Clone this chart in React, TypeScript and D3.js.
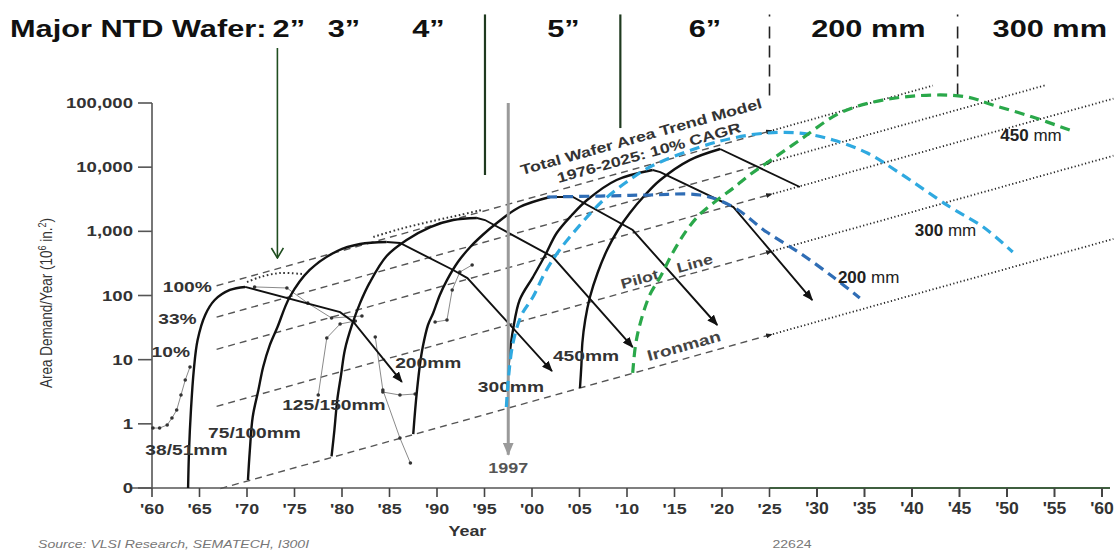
import React from 'react';
import * as d3 from 'd3';

// Wafer area demand by generation, with the 10% CAGR trend model.
// Values are [year, area demand in 10^6 in^2].

type Pt = [number, number];

const WIDTH = 1116;
const HEIGHT = 551;
const FONT = '"Liberation Sans", Arial, Helvetica, sans-serif';
const SX = 1.28; // the source figure is stretched horizontally, text included
const CAGR = 0.1;

// ---- axes ----
const YEAR_TICKS = [1960, 1965, 1970, 1975, 1980, 1985, 1990, 1995, 2000, 2005, 2010,
  2015, 2020, 2025, 2030, 2035, 2040, 2045, 2050, 2055, 2060];
const YEAR_TICK_LABELS = ["'60", "'65", "'70", "'75", "'80", "'85", "'90", "'95", "'00", "'05", "'10",
  "'15", "'20", "'25", "'30", "'35", "'40", "'45", "'50", "'55", "'60"];
const AREA_TICKS = [0.1, 1, 10, 100, 1000, 10000, 100000];
const AREA_TICK_LABELS = ['0', '1', '10', '100', '1,000', '10,000', '100,000'];

// ---- header: major wafer eras ----
const ERA_LABELS = ['2”', '3”', '4”', '5”', '6”', '200 mm', '300 mm'];
const ERA_CENTER_YEARS = [1974.4, 1980.2, 1989.1, 2003.3, 2018.2, 2035.4, 2054.5];
const DIVIDER_YEARS = [1995.05, 2009.3, 2025, 2044.8];
const DIVIDER_BOTTOMS = [7550, 40700, 111000, 133000];
const DIVIDER_DASHED = [false, false, true, true];
const DIVIDER_TOP = 2.4e6;
const ARROW_2IN: Pt[] = [[1973.2, 7.2e5], [1973.2, 384]];
const MARKER_1997: Pt[] = [[1997.5, 100000], [1997.5, 0.33]];

// ---- trend model lines (dashed to 2025, dotted after) ----
const TREND_100: Pt[] = [[1966.8, 142], [2025, 36300], [2042.2, 187000]];
const TREND_33: Pt[] = [[1966.8, 46], [2025, 11900], [2054.2, 192000]];
const TREND_10: Pt[] = [[1966.8, 14.5], [2025, 3720], [2061.2, 117000]];
const TREND_PILOT: Pt[] = [[1966.8, 1.87], [2025, 479], [2061.2, 15070]];
const TREND_IRONMAN: Pt[] = [[1967.2, 0.098], [2025, 24.2], [2061.2, 762]];

const SHARE_LABELS = ['100%', '33%', '10%'];
const SHARE_LABEL_AT: Pt[] = [[1966.3, 113], [1964.7, 36], [1964.0, 11]];

// ---- generations (black): ramp, then decline ----
const GEN_38_51_RISE: Pt[] = [[1963.8, 0.1], [1963.9, 0.39], [1964.1, 1.64], [1964.4, 6.9], [1964.8, 20.2],
  [1965.6, 49.7], [1966.6, 85], [1968.2, 122], [1969.8, 136]];
const GEN_38_51_FALL: Pt[] = [[1969.8, 136], [1979.8, 55], [1981.2, 38.6], [1986.3, 4.5]];

const GEN_75_100_RISE: Pt[] = [[1970.1, 0.133], [1970.3, 0.39], [1970.6, 1.28], [1971.2, 3.37], [1971.7, 7.7],
  [1972.4, 16.9], [1973.2, 32], [1974.5, 94.7], [1976.6, 250], [1979.5, 493], [1981.9, 634], [1984.7, 682]];
const GEN_75_100_FALL: Pt[] = [[1984.7, 682], [1986.1, 658], [1991.7, 250], [1993.2, 187], [2002.1, 6.65]];

const GEN_125_150_RISE: Pt[] = [[1978.9, 0.31], [1979.2, 0.8], [1979.5, 2.35], [1979.9, 5.77], [1980.3, 14.2],
  [1981.05, 34.7], [1981.9, 76], [1982.9, 157], [1984.7, 412], [1986.8, 733], [1989.3, 1167], [1991.7, 1500],
  [1994.2, 1615]];
const GEN_125_150_FALL: Pt[] = [[1994.2, 1615], [1995.05, 1500], [2002.2, 398], [2010.6, 15.7]];

const GEN_200_RISE: Pt[] = [[1987.5, 0.69], [1987.7, 1.64], [1987.9, 3.37], [1988.2, 8.26], [1988.5, 15.7],
  [1989.05, 34.7], [1989.6, 53.3], [1990.3, 102], [1991.05, 174], [1992.2, 333], [1993.5, 570], [1994.8, 877],
  [1996.3, 1349], [1998.7, 2393], [2001.9, 3430]];
const GEN_200_FALL: Pt[] = [[2001.9, 3430], [2004.3, 3430], [2010.6, 1049], [2019.5, 34.7]];

const GEN_300_RISE: Pt[] = [[1997.5, 6.9], [1997.7, 14.2], [1998.0, 29], [1998.7, 85], [2000.1, 194],
  [2001.4, 428], [2002.6, 942], [2004.2, 1796], [2005.8, 3076], [2008.9, 6310], [2012.7, 9030]];
const GEN_300_FALL: Pt[] = [[2012.7, 9030], [2013.5, 8400], [2021.2, 2393], [2029.5, 85]];

const GEN_450_RISE: Pt[] = [[2005.05, 3.62], [2005.2, 8.26], [2005.3, 18.2], [2005.6, 41.5], [2006.1, 94.7],
  [2006.9, 224], [2007.9, 512], [2009.05, 1049], [2010.3, 1932], [2011.9, 3680], [2013.5, 6310],
  [2016.6, 12900], [2019.8, 19200]];
const GEN_450_FALL: Pt[] = [[2019.8, 19200], [2028.2, 4910]];

const CURVE_LABELS = ['38/51mm', '75/100mm', '125/150mm', '200mm', '300mm', '450mm'];
const CURVE_LABEL_AT: Pt[] = [[1959.3, 0.33], [1965.9, 0.6], [1973.7, 1.64], [1985.6, 7.41], [1994.3, 3.13],
  [2002.2, 9.5]];

// ---- forecast generations (coloured, dashed) ----
const FORECAST_200: Pt[] = [[2001.6, 3430], [2007.2, 3550], [2012.4, 3680], [2017.7, 3680], [2021.2, 2393],
  [2024.7, 975], [2028.2, 459], [2031.7, 194], [2034.5, 91.4]];
const FORECAST_300: Pt[] = [[1997.3, 1.83], [1997.5, 4.82], [1998.0, 18.2], [1998.9, 49.7], [2000.1, 94.7],
  [2001.4, 232], [2002.9, 512], [2005.05, 1254], [2007.2, 2762], [2009.8, 5660], [2012.4, 10050],
  [2017.7, 20600], [2021.2, 28500], [2024.7, 34000], [2028.2, 34000], [2031.7, 26500], [2035.3, 16600],
  [2038.7, 8110], [2044.0, 2393], [2047.5, 1167], [2050.6, 476]];
const FORECAST_450: Pt[] = [[2010.6, 6.2], [2010.9, 16.9], [2011.4, 37.2], [2012.4, 102], [2013.5, 194],
  [2014.8, 459], [2016.3, 1049], [2017.7, 1862], [2019.5, 3076], [2021.2, 4730], [2022.9, 7550],
  [2024.7, 11600], [2028.2, 26500], [2032.4, 69800], [2036.9, 111000], [2042.2, 133000], [2045.8, 124000],
  [2048.5, 93000], [2052.7, 60500], [2056.6, 37900]];
const FORECAST_LABELS = ['200', '300', '450'];
const FORECAST_LABEL_AT: Pt[] = [[2032.2, 157], [2040.3, 845], [2049.3, 25600]];

// ---- historical data traces (thin, with dots) ----
const HIST_2IN: Pt[] = [[1960.1, 0.86], [1960.8, 0.86], [1961.6, 0.96], [1962.1, 1.23], [1962.6, 1.64],
  [1963.05, 2.81], [1963.5, 4.82], [1964.0, 7.7]];
const HIST_3IN: Pt[] = [[1970.8, 136], [1974.2, 131], [1976.4, 76], [1978.9, 44.6], [1982.1, 47.9]];
const HIST_4IN_RISE: Pt[] = [[1977.5, 2.81], [1978.4, 21.8], [1979.8, 36], [1981.4, 40]];
const HIST_4IN_FALL: Pt[] = [[1983.5, 22.5], [1984.3, 3.37], [1986.1, 0.6], [1987.2, 0.245]];
const HIST_4IN_FLAT: Pt[] = [[1984.3, 3.13], [1986.1, 2.81], [1987.7, 2.92]];
const HIST_5IN: Pt[] = [[1993.7, 299], [1992.4, 232], [1991.6, 122], [1991.05, 41.5], [1989.8, 38.6]];
const HIST_3IN_TOP: Pt[] = [[1970.0, 162], [1971.4, 194], [1973.5, 224], [1975.8, 216]];
const HIST_6IN_TOP: Pt[] = [[1983.3, 817], [1986.1, 1087], [1990.0, 1500], [1992.4, 1796], [1994.7, 2149]];

// ---- text along the trend lines ----
const TREND_TEXTS = ['Total Wafer Area Trend Model', '1976-2025: 10% CAGR', 'Pilot', 'Line', 'Ironman'];
const TREND_TEXT_AT: Pt[] = [[1998.95, 7550], [2002.8, 5660], [2009.5, 126], [2015.4, 224], [2012.3, 9.5]];
const TREND_TEXT_SIZES = [14, 14, 14, 14, 15];

function T({ x, y, children, size = 15, weight = 'bold', anchor = 'start', fill = '#333', rotate = 0, sx = SX, italic = false }: any) {
  return (
    <text
      transform={`translate(${x},${y}) rotate(${rotate}) scale(${sx},1)`}
      fontFamily={FONT}
      fontSize={size}
      fontWeight={weight}
      fontStyle={italic ? 'italic' : 'normal'}
      textAnchor={anchor}
      fill={fill}
    >
      {children}
    </text>
  );
}

export default function App() {
  const x = d3.scaleLinear().domain([1960, 2060]).range([152, 1102]);
  const y = d3.scaleLog().domain([0.1, 100000]).range([488, 103]);
  const smooth = d3.line<Pt>().x((d) => x(d[0])).y((d) => y(d[1])).curve(d3.curveCatmullRom.alpha(0.5));
  const straight = d3.line<Pt>().x((d) => x(d[0])).y((d) => y(d[1]));
  const trendAngle = (Math.atan2(y(100 * (1 + CAGR) ** 10) - y(100), x(1970) - x(1960)) * 180) / Math.PI;
  const axisY = y(0.1);

  const trends = [TREND_100, TREND_33, TREND_10, TREND_PILOT, TREND_IRONMAN];
  const rises = [GEN_38_51_RISE, GEN_75_100_RISE, GEN_125_150_RISE, GEN_200_RISE, GEN_300_RISE, GEN_450_RISE];
  const falls = [GEN_38_51_FALL, GEN_75_100_FALL, GEN_125_150_FALL, GEN_200_FALL, GEN_300_FALL, GEN_450_FALL];
  const hists = [HIST_2IN, HIST_3IN, HIST_4IN_RISE, HIST_4IN_FALL, HIST_4IN_FLAT, HIST_5IN];
  const forecasts = [
    { data: FORECAST_200, color: '#2f6db5' },
    { data: FORECAST_300, color: '#2fa9e0' },
    { data: FORECAST_450, color: '#2aa84a' },
  ];

  return (
    <svg
      width={WIDTH}
      height={HEIGHT}
      viewBox={`0 0 ${WIDTH} ${HEIGHT}`}
      style={{ position: 'absolute', left: 0, top: 0, background: '#fff', display: 'block' }}
    >
      <defs>
        <marker id="arrow-black" viewBox="0 0 10 8" refX={9} refY={4} markerWidth={11} markerHeight={9}
          markerUnits="userSpaceOnUse" orient="auto">
          <path d="M0,0 L10,4 L0,8 z" fill="#111" />
        </marker>
        <marker id="arrow-small" viewBox="0 0 8 6" refX={4} refY={3} markerWidth={7} markerHeight={5}
          markerUnits="userSpaceOnUse" orient="auto">
          <path d="M0,0 L8,3 L0,6 z" fill="#222" />
        </marker>
        <marker id="arrow-grey" viewBox="0 0 12 10" refX={11} refY={5} markerWidth={13} markerHeight={11}
          markerUnits="userSpaceOnUse" orient="auto">
          <path d="M0,0 L12,5 L0,10 z" fill="#9a9a9a" />
        </marker>
        <marker id="arrow-open" viewBox="-1 -1 12 14" refX={10} refY={6} markerWidth={12} markerHeight={14}
          markerUnits="userSpaceOnUse" orient="auto">
          <path d="M0,0 L10,6 L0,12" fill="none" stroke="#1f4d1f" strokeWidth={1.6} />
        </marker>
      </defs>

      {/* header */}
      <T x={10} y={37} size={24} fill="#111">Major NTD Wafer:</T>
      {ERA_LABELS.map((lab, i) => (
        <T key={lab} x={x(ERA_CENTER_YEARS[i])} y={37} size={24} fill="#111" anchor="middle">{lab}</T>
      ))}
      {DIVIDER_YEARS.map((yr, i) => (
        <line
          key={`div-${yr}`}
          x1={x(yr)} x2={x(yr)}
          y1={y(DIVIDER_TOP)} y2={y(DIVIDER_BOTTOMS[i])}
          stroke={DIVIDER_DASHED[i] ? '#222' : '#1f3a1f'}
          strokeWidth={DIVIDER_DASHED[i] ? 1.6 : 2.2}
          strokeDasharray={DIVIDER_DASHED[i] ? '2 10 12 7 12 7 12 7 12 7' : undefined}
        />
      ))}
      <path d={straight(ARROW_2IN) ?? ''} stroke="#1f4d1f" strokeWidth={1.6} fill="none" markerEnd="url(#arrow-open)" />

      {/* axes */}
      <line x1={130} x2={1110} y1={axisY} y2={axisY} stroke="#555" strokeWidth={1.6} />
      <line x1={x(2025)} x2={1110} y1={axisY} y2={axisY} stroke="#3f5f3f" strokeWidth={1.8} />
      <line x1={x(1960)} x2={x(1960)} y1={y(100000)} y2={axisY} stroke="#555" strokeWidth={1.6} />
      {AREA_TICKS.map((v, i) => (
        <g key={`yt-${v}`}>
          <line x1={x(1960) - 14} x2={x(1960)} y1={y(v)} y2={y(v)} stroke="#555" strokeWidth={1.6} />
          <T x={x(1960) - 19} y={y(v) + 5} size={14.5} anchor="end" fill="#333">{AREA_TICK_LABELS[i]}</T>
        </g>
      ))}
      {YEAR_TICKS.map((yr, i) => (
        <g key={`xt-${i}`}>
          <line x1={x(yr)} x2={x(yr)} y1={axisY} y2={axisY + 9} stroke="#444" strokeWidth={yr > 2025 ? 2 : 1.6} />
          <T x={x(yr)} y={axisY + 26} size={yr > 2025 ? 16 : 14} sx={yr > 2025 ? 1.1 : SX} anchor="middle" fill="#333">
            {YEAR_TICK_LABELS[i]}
          </T>
        </g>
      ))}
      <T x={x(1993.2)} y={536} size={14} anchor="middle" fill="#333">Year</T>
      <text
        transform={`translate(52,303) scale(${SX},1) rotate(-90)`}
        fontFamily={FONT}
        fontSize={13.5}
        textAnchor="middle"
        fill="#333"
      >
        Area Demand/Year (10<tspan baselineShift="super" fontSize={9}>6</tspan> in.
        <tspan baselineShift="super" fontSize={9}>2</tspan>)
      </text>
      <T x={38} y={548} size={11} weight="normal" italic fill="#777">Source: VLSI Research, SEMATECH, I300I</T>
      <T x={792} y={548} size={11} weight="normal" anchor="middle" fill="#777">22624</T>

      {/* trend model lines */}
      {trends.map((t, i) => (
        <g key={`trend-${i}`}>
          <path d={straight(t.slice(0, 2)) ?? ''} fill="none" stroke="#555" strokeWidth={1.4} strokeDasharray="7 5" />
          <path d={straight(t.slice(1)) ?? ''} fill="none" stroke="#222" strokeWidth={1.8}
            strokeDasharray="1.2 2.4" markerStart="url(#arrow-small)" />
        </g>
      ))}
      {SHARE_LABELS.map((lab, i) => (
        <T key={lab} x={x(SHARE_LABEL_AT[i][0])} y={y(SHARE_LABEL_AT[i][1])} anchor="end">{lab}</T>
      ))}
      {TREND_TEXTS.map((lab, i) => (
        <T key={lab} x={x(TREND_TEXT_AT[i][0])} y={y(TREND_TEXT_AT[i][1])} size={TREND_TEXT_SIZES[i]}
          rotate={trendAngle} fill={i < 2 ? '#333' : '#444'}>{lab}</T>
      ))}

      {/* historical traces */}
      {hists.map((h, i) => (
        <g key={`hist-${i}`}>
          <path d={straight(h) ?? ''} fill="none" stroke="#8a8a8a" strokeWidth={1} />
          {h.map((p, j) => (
            <circle key={j} cx={x(p[0])} cy={y(p[1])} r={1.8} fill="#333" />
          ))}
        </g>
      ))}
      {[HIST_3IN_TOP, HIST_6IN_TOP].map((h, i) => (
        <path key={`histtop-${i}`} d={smooth(h) ?? ''} fill="none" stroke="#333" strokeWidth={2}
          strokeDasharray="1.6 2.6" />
      ))}

      {/* generations */}
      {rises.map((r, i) => (
        <path key={`rise-${i}`} d={smooth(r) ?? ''} fill="none" stroke="#111" strokeWidth={2.4} />
      ))}
      {falls.map((f, i) => (
        <path key={`fall-${i}`} d={straight(f) ?? ''} fill="none" stroke="#111" strokeWidth={1.9}
          markerEnd={i < falls.length - 1 ? 'url(#arrow-black)' : undefined} />
      ))}
      {CURVE_LABELS.map((lab, i) => (
        <T key={lab} x={x(CURVE_LABEL_AT[i][0])} y={y(CURVE_LABEL_AT[i][1])}>{lab}</T>
      ))}

      {/* 1997 marker */}
      <path d={straight(MARKER_1997) ?? ''} stroke="#9a9a9a" strokeWidth={3} fill="none" markerEnd="url(#arrow-grey)" />
      <T x={x(MARKER_1997[0][0])} y={y(0.171)} size={14} anchor="middle" fill="#555">1997</T>

      {/* forecasts */}
      {forecasts.map((f, i) => (
        <path key={`fc-${i}`} d={smooth(f.data) ?? ''} fill="none" stroke={f.color} strokeWidth={3.2}
          strokeDasharray="10 6" />
      ))}
      {FORECAST_LABELS.map((lab, i) => (
        <text key={lab} x={x(FORECAST_LABEL_AT[i][0])} y={y(FORECAST_LABEL_AT[i][1])} fontFamily={FONT}
          fontSize={17} fill="#222">
          <tspan fontWeight="bold">{lab}</tspan>
          <tspan> mm</tspan>
        </text>
      ))}
    </svg>
  );
}
